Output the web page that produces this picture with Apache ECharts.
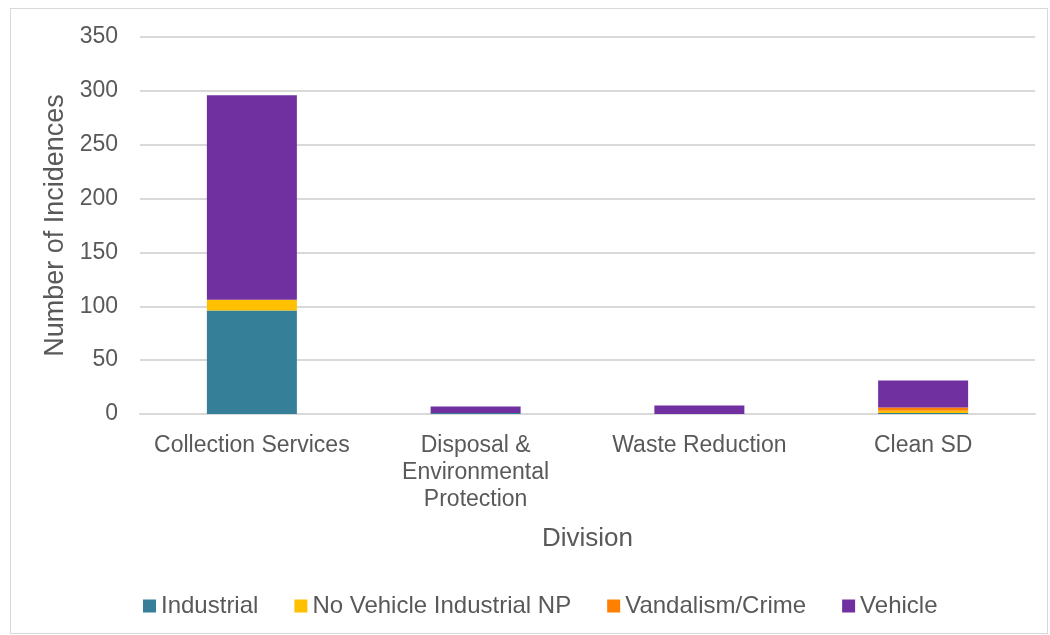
<!DOCTYPE html>
<html><head><meta charset="utf-8">
<script src="https://cdn.jsdelivr.net/npm/echarts@6/dist/echarts.min.js"></script>
<style>html,body{margin:0;padding:0;background:#fff;}#frame{position:absolute;left:10px;top:8px;width:1038px;height:626px;border:1px solid #d9d9d9;box-sizing:border-box;}#c{position:absolute;left:0;top:0;width:1050px;height:635px;}</style>
</head><body><div id="frame"></div><div id="c"></div>
<script>
const categories = ['Collection Services', 'Disposal &\nEnvironmental\nProtection', 'Waste Reduction', 'Clean SD'];
const industrial = [96, 1, 0, 1];
const noVehicleIndustrialNP = [10, 0, 0, 2];
const vandalismCrime = [0, 0, 0, 3];
const vehicle = [190, 6, 8, 25];
const yTicks = [0, 50, 100, 150, 200, 250, 300, 350];
const font = 'Liberation Sans, Arial, sans-serif';
const txt = '#595959';
const chart = echarts.init(document.getElementById('c'));
function s(name, data, color) {
  return { name, type: 'bar', stack: 'a', data, barWidth: 90, itemStyle: { color }, emphasis: { disabled: true } };
}
chart.setOption({
  animation: false,
  grid: { left: 140, right: 15, top: 37, bottom: 221, containLabel: false },
  legend: {
    bottom: 12, left: 138, itemWidth: 13, itemHeight: 13, itemGap: 36,
    icon: 'rect',
    textStyle: { fontFamily: font, fontSize: 24, color: txt, padding: [0, 0, 0, 0] },
    data: ['Industrial', 'No Vehicle Industrial NP', 'Vandalism/Crime', 'Vehicle']
  },
  xAxis: {
    type: 'category', data: categories,
    name: 'Division', nameLocation: 'middle', nameGap: 112,
    nameTextStyle: { fontFamily: font, fontSize: 26, color: txt },
    axisLine: { lineStyle: { color: '#d9d9d9', width: 2 } },
    axisTick: { show: false },
    axisLabel: { fontFamily: font, fontSize: 23, color: txt, margin: 18, lineHeight: 27, interval: 0 }
  },
  yAxis: {
    type: 'value', min: 0, max: 350, interval: 50,
    name: 'Number of Incidences', nameLocation: 'middle', nameGap: 70,
    nameTextStyle: { fontFamily: font, fontSize: 27, color: txt },
    axisLabel: { fontFamily: font, fontSize: 23, color: txt, margin: 22,
      formatter: v => yTicks.includes(v) ? String(v) : '' },
    splitLine: { lineStyle: { color: '#d9d9d9', width: 2 } },
    axisLine: { show: false }, axisTick: { show: false }
  },
  series: [
    s('Industrial', industrial, '#367f99'),
    s('No Vehicle Industrial NP', noVehicleIndustrialNP, '#ffc000'),
    s('Vandalism/Crime', vandalismCrime, '#ff8000'),
    s('Vehicle', vehicle, '#7030a0')
  ]
});
</script></body></html>
